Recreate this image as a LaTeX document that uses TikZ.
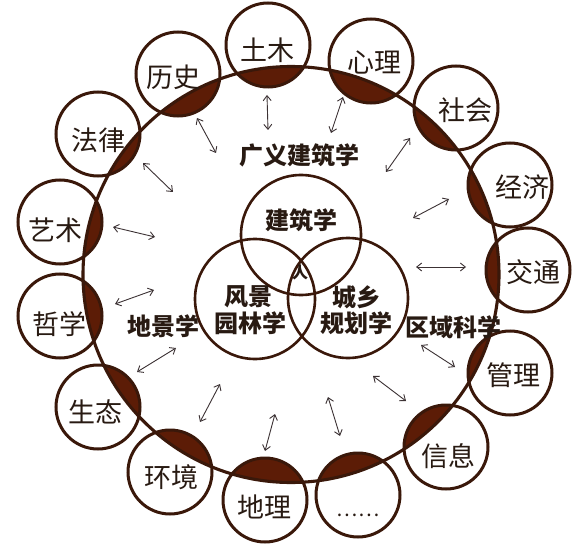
\documentclass[tikz,border=0pt]{standalone}
\usepackage{fontspec}
\newfontfamily\cjk{Noto Sans CJK SC}
\usetikzlibrary{arrows.meta}
\definecolor{lensbrown}{RGB}{92,28,6}
\definecolor{linebrown}{RGB}{58,24,10}
\definecolor{txt}{RGB}{40,26,18}
\definecolor{arrowc}{RGB}{60,50,52}
\begin{document}
\begin{tikzpicture}[x=1pt,y=-1pt,
  ring/.style={draw=linebrown,line width=3.1pt},
  smallc/.style={circle,draw=linebrown,line width=3pt,minimum size=84pt,inner sep=0pt},
  venn/.style={circle,draw=linebrown,line width=2.6pt,minimum size=120pt,inner sep=0pt},
  lbl/.style={font=\cjk\fontsize{27}{27}\selectfont,text=txt,inner sep=0pt},
  core/.style={font=\cjk\bfseries\fontsize{24}{24}\selectfont,text=txt,inner sep=0pt},
  arr/.style={draw=arrowc,line width=0.9pt,>={Straight Barb[length=5pt,width=8pt]},<->}
]
\useasboundingbox (0,0) rectangle (586,548);
\fill[white] (0,0) rectangle (586,548);

% big ring centre
\coordinate (B) at (291,274.5);

% small circle centres
\coordinate (c1) at (268,45);
\coordinate (c2) at (371,61);
\coordinate (c3) at (456,108);
\coordinate (c4) at (510,185);
\coordinate (c5) at (528,270);
\coordinate (c6) at (510,373);
\coordinate (c7) at (446,447);
\coordinate (c8) at (358,495);
\coordinate (c9) at (265,500);
\coordinate (c10) at (170,472);
\coordinate (c11) at (98,407);
\coordinate (c12) at (60,316);
\coordinate (c13) at (60,222);
\coordinate (c14) at (98,134);
\coordinate (c15) at (178,74);

% lenses
\begin{scope}
  \clip (B) circle[radius=208pt];
  \foreach \c in {c1,c2,c3,c4,c5,c6,c7,c8,c9,c10,c11,c12,c13,c14,c15}
    \fill[lensbrown] (\c) circle[radius=42pt];
\end{scope}

% big ring
\draw[ring] (B) circle[radius=208pt];

% small circles
\foreach \c in {c1,c2,c3,c4,c5,c6,c7,c8,c9,c10,c11,c12,c13,c14,c15}
  \node[smallc] (n\c) at (\c) {};

% labels in small circles
\node[lbl] (t1) at (267,50) {土木};
\node[lbl] (t2) at (374,62) {心理};
\node[lbl] (t3) at (465,110) {社会};
\node[lbl] (t4) at (522,187) {经济};
\node[lbl] (t5) at (533,272) {交通};
\node[lbl] (t6) at (513,375) {管理};
\node[lbl] (t7) at (448,456) {信息};
\node[lbl,font=\cjk\fontsize{20}{20}\selectfont] (t8) at (358,515) {……};
\node[lbl] (t9) at (264,507) {地理};
\node[lbl] (t10) at (171,477) {环境};
\node[lbl] (t11) at (95,412) {生态};
\node[lbl] (t12) at (59,324) {哲学};
\node[lbl] (t13) at (55,230) {艺术};
\node[lbl] (t14) at (98,140) {法律};
\node[lbl] (t15) at (173,77) {历史};

% venn circles
\node[venn] (vtop) at (301,235) {};
\node[venn] (vleft) at (255,299) {};
\node[venn] (vright) at (348,298) {};

% core labels
\node[core] (gy) at (299,155) {广义建筑学};
\node[core] (jz) at (301,220) {建筑学};
\node[core] (fj) at (248,297) {风景};
\node[core] (yl) at (250,323) {园林学};
\node[core] (cx) at (356,297) {城乡};
\node[core] (gh) at (356,323) {规划学};
\node[core] (dj) at (163,326) {地景学};
\node[core] (qy) at (453,327) {区域科学};
\node[core,font=\cjk\bfseries\fontsize{16}{16}\selectfont] (ren) at (300,272) {人};

% arrows
\coordinate (a1s) at (267,95);  \coordinate (a1e) at (268,130);
\coordinate (a2s) at (343,97);  \coordinate (a2e) at (331,133);
\coordinate (a3s) at (410,138); \coordinate (a3e) at (386,172);
\coordinate (a4s) at (449,199); \coordinate (a4e) at (413,218);
\coordinate (a5s) at (416,267); \coordinate (a5e) at (466,267);
\coordinate (a6s) at (421,345); \coordinate (a6e) at (455,367);
\coordinate (a7s) at (373,376); \coordinate (a7e) at (406,401);
\coordinate (a8s) at (328,397); \coordinate (a8e) at (340,436);
\coordinate (a9s) at (275,414); \coordinate (a9e) at (265,451);
\coordinate (a10s) at (220,384); \coordinate (a10e) at (200,422);
\coordinate (a11s) at (176,348); \coordinate (a11e) at (137,372);
\coordinate (a12s) at (154,290); \coordinate (a12e) at (115,304);
\coordinate (a13s) at (113,227); \coordinate (a13e) at (155,237);
\coordinate (a14s) at (143,163); \coordinate (a14e) at (173,192);
\coordinate (a15s) at (197,118); \coordinate (a15e) at (216,153);
\foreach \i in {1,...,15}
  \draw[arr] (a\i s) -- (a\i e);
\end{tikzpicture}
\end{document}
